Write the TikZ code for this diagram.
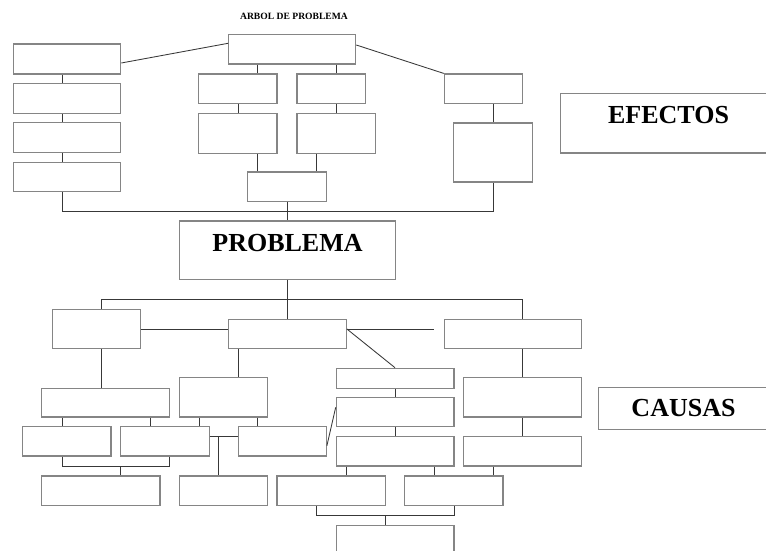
\documentclass[tikz,border=0pt]{standalone}
\usepackage{fontspec}
\setmainfont{Liberation Serif}
\usetikzlibrary{fit}
\begin{document}
\begin{tikzpicture}[x=1pt,y=-1pt,
  bx/.style={draw=black!48,line width=1.2pt,inner sep=0pt,rectangle},
  cn/.style={draw=black!78,line width=0.85pt},
  big/.style={font=\fontsize{26}{28}\selectfont\bfseries,inner sep=0pt,anchor=base},
  ttl/.style={font=\fontsize{9.6}{11}\selectfont\bfseries,inner sep=0pt,anchor=base}]
\useasboundingbox[fill=white] (0,0) rectangle (766,551);
\newcommand{\bxx}[5]{\node[bx,fit={(#2,#3) (#4,#5)}] (#1) {};}
% title
\node[ttl] (title) at (294,20) {ARBOL DE PROBLEMA};
% effects
\bxx{top}{228.7}{34.7}{355.7}{64}
\bxx{e1}{13.3}{44}{120.7}{74}
\bxx{e2}{13.3}{83.3}{120.7}{113.3}
\bxx{e3}{13.3}{122.7}{120.7}{152.7}
\bxx{e4}{13.3}{162.3}{120.7}{191.7}
\bxx{ma}{198.7}{74}{277}{103.7}
\bxx{mb}{297}{74}{365.7}{103.7}
\bxx{mc}{198.7}{113.3}{277}{153.3}
\bxx{md}{297}{113.3}{375.3}{153.3}
\bxx{me}{247.7}{172}{326.3}{201.3}
\bxx{ra}{444.3}{74}{522.7}{103.7}
\bxx{rb}{453.7}{123}{532.3}{182}
\bxx{efectos}{560.7}{93.3}{780}{153}
\node[big] (efectosT) at (668.5,123.3) {EFECTOS};
\bxx{prob}{179.7}{221}{395.7}{279.3}
\node[big] (probT) at (287.5,251) {PROBLEMA};
% causes
\bxx{l1}{52.3}{309.7}{140.3}{348.7}
\bxx{c1}{228.7}{319.3}{346.3}{348.7}
\bxx{r1}{444.3}{319.3}{581.3}{348.7}
\bxx{l2}{41.7}{388.3}{169.7}{417}
\bxx{l3a}{22.7}{426.7}{111}{456}
\bxx{l3b}{120.3}{426.7}{209.3}{456}
\bxx{l4}{41.7}{476}{160}{505.7}
\bxx{c2}{179.7}{377.7}{267.7}{417}
\bxx{c3}{238.3}{426.7}{326.3}{456}
\bxx{c4}{179.7}{476}{267.7}{505.7}
\bxx{m1}{336.3}{368.3}{454}{388.3}
\bxx{m2}{336.3}{397.7}{454}{426.7}
\bxx{m3}{336.3}{436.3}{454}{466}
\bxx{r2}{463.7}{377.7}{581.3}{417}
\bxx{r3}{463.7}{436.3}{581.3}{466}
\bxx{b1}{277}{476}{385.3}{505.7}
\bxx{b2}{404.7}{476}{503}{505.7}
\bxx{b3}{336.3}{525.3}{454}{570}
\bxx{causas}{598.7}{387.7}{780}{429.7}
\node[big] (causasT) at (683.5,416.7) {CAUSAS};
\coordinate (free) at (434.3,329);
% top connectors
\draw[cn] (e1.east |- 0,63) -- (top.west |- 0,43.3);
\draw[cn] (top.east |- 0,45) -- (ra.north west);
\draw[cn] (e1.south -| 62,0) -- (e2.north -| 62,0);
\draw[cn] (e2.south -| 62,0) -- (e3.north -| 62,0);
\draw[cn] (e3.south -| 62,0) -- (e4.north -| 62,0);
\draw[cn] (top.south -| 257.7,0) -- (ma.north -| 257.7,0);
\draw[cn] (top.south -| 336.3,0) -- (mb.north -| 336.3,0);
\draw[cn] (ma.south -| 238.3,0) -- (mc.north -| 238.3,0);
\draw[cn] (mb.south -| 336.3,0) -- (md.north -| 336.3,0);
\draw[cn] (mc.south -| 257.7,0) -- (me.north -| 257.7,0);
\draw[cn] (md.south -| 316.3,0) -- (me.north -| 316.3,0);
\draw[cn] (me.south -| 287.3,0) -- (prob.north -| 287.3,0);
\draw[cn] (ra.south -| 493.3,0) -- (rb.north -| 493.3,0);
\draw[cn] (e4.south -| 62,0) -- (62,211) -- (493.3,211) -- (rb.south -| 493.3,0);
% lower connectors
\draw[cn] (prob.south -| 287.3,0) -- (c1.north -| 287.3,0);
\draw[cn] (l1.north -| 101.3,0) -- (101.3,299.7) -- (522.3,299.7) -- (r1.north -| 522.3,0);
\draw[cn] (l1.east |- 0,329) -- (c1.west |- 0,329);
\draw[cn] (c1.east |- 0,329) -- (free);
\draw[cn] (c1.east |- 0,329) -- (m1.north -| 395,0);
\draw[cn] (l1.south -| 101.3,0) -- (l2.north -| 101.3,0);
\draw[cn] (c1.south -| 238.3,0) -- (c2.north -| 238.3,0);
\draw[cn] (r1.south -| 522.3,0) -- (r2.north -| 522.3,0);
\draw[cn] (r2.south -| 522.3,0) -- (r3.north -| 522.3,0);
\draw[cn] (m1.south -| 395.7,0) -- (m2.north -| 395.7,0);
\draw[cn] (m2.south -| 395.7,0) -- (m3.north -| 395.7,0);
\draw[cn] (l2.south -| 62,0) -- (l3a.north -| 62,0);
\draw[cn] (l2.south -| 150,0) -- (l3b.north -| 150,0);
\draw[cn] (c2.south -| 199.3,0) -- (l3b.north -| 199.3,0);
\draw[cn] (c2.south -| 257.7,0) -- (c3.north -| 257.7,0);
\draw[cn] (l3a.south -| 62,0) -- (62,466) -- (169.7,466) -- (l3b.south -| 169.7,0);
\draw[cn] (120.7,466) -- (l4.north -| 120.7,0);
\draw[cn] (l3b.east |- 0,436.3) -- (c3.west |- 0,436.3);
\draw[cn] (218.7,436.3) -- (c4.north -| 218.7,0);
\draw[cn] (c3.east |- 0,445.7) -- (m2.west |- 0,407.3);
\draw[cn] (m3.south -| 346.3,0) -- (b1.north -| 346.3,0);
\draw[cn] (m3.south -| 434.3,0) -- (b2.north -| 434.3,0);
\draw[cn] (r3.south -| 493,0) -- (b2.north -| 493,0);
\draw[cn] (b1.south -| 316.7,0) -- (316.7,515.3) -- (454,515.3) -- (b2.south -| 454,0);
\draw[cn] (385.3,515.3) -- (b3.north -| 385.3,0);
\end{tikzpicture}
\end{document}
